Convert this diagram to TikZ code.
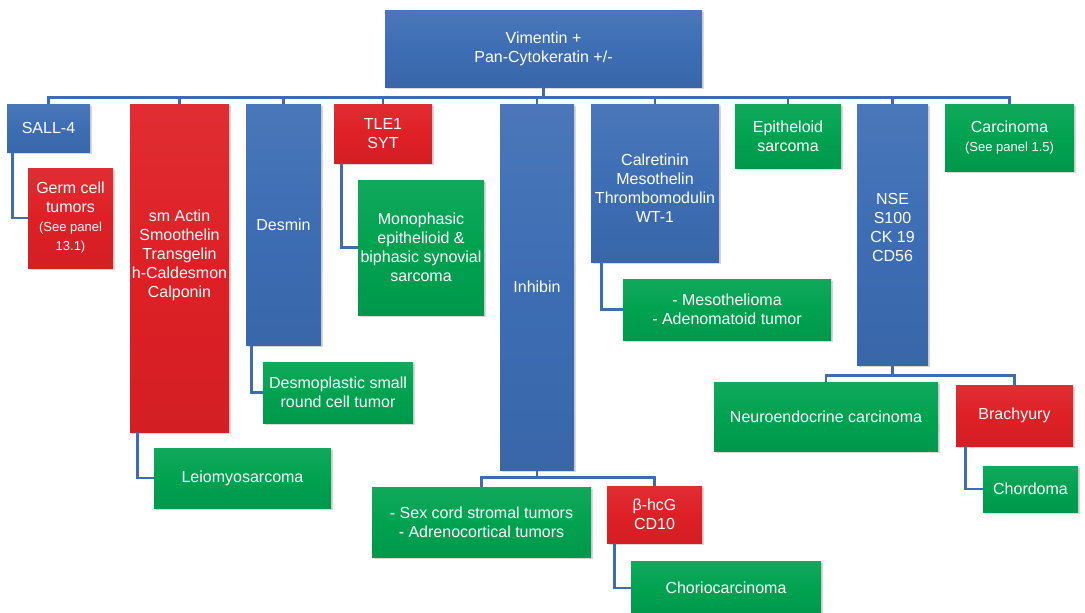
\documentclass[tikz,border=0pt]{standalone}
\usepackage{fontspec}
\setmainfont{Liberation Sans}
\usetikzlibrary{shadows}

\definecolor{boxblue}{RGB}{61,109,180}
\definecolor{boxred}{RGB}{222,32,38}
\definecolor{boxgreen}{RGB}{0,162,80}
\definecolor{linkblue}{RGB}{62,108,176}

\newcommand{\smallnote}{\fontsize{13}{15}\selectfont}

\tikzset{
  boxtext/.style={text=white, align=center, font=\fontsize{16}{19}\selectfont, inner sep=0pt},
  box/.style={boxtext, draw=none, inner sep=2pt,
    drop shadow={opacity=0.3, shadow xshift=1.5pt, shadow yshift=-2pt}},
  bluebox/.style={box, top color=boxblue!93!white, bottom color=boxblue!94!black, middle color=boxblue},
  redbox/.style={box, top color=boxred!94!white, bottom color=boxred!95!black, middle color=boxred},
  greenbox/.style={box, top color=boxgreen!93!white, bottom color=boxgreen!94!black, middle color=boxgreen},
  conn/.style={draw=linkblue, line width=2.8pt},
}

\begin{document}
\begin{tikzpicture}[x=1pt, y=-1pt]
\useasboundingbox (0,0) rectangle (1085,613);
\fill[white] (0,0) rectangle (1085,613);

% top level
\node[bluebox, minimum width=317, minimum height=77] (root) at (543.5,48.5)
  {Vimentin +\\Pan-Cytokeratin +/-};

% first row of markers and entities
\node[bluebox, minimum width=83, minimum height=48] (sall) at (48.5,128) {SALL-4};
\node[redbox, minimum width=99, minimum height=328,
  label={[boxtext, yshift=13pt]center:{sm Actin\\Smoothelin\\Transgelin\\h-Caldesmon\\Calponin}}]
  (smact) at (179.5,268) {};
\node[bluebox, minimum width=75, minimum height=241] (desmin) at (283.5,224.5) {Desmin};
\node[redbox, minimum width=98, minimum height=59] (tle) at (383,133.5) {TLE1\\SYT};
\node[bluebox, minimum width=74, minimum height=366] (inhibin) at (537,287) {Inhibin};
\node[bluebox, minimum width=128, minimum height=158,
  label={[boxtext, yshift=-5pt]center:{Calretinin\\Mesothelin\\Thrombomodulin\\WT-1}}]
  (calret) at (655,183) {};
\node[greenbox, minimum width=106, minimum height=64] (epith) at (788,136) {Epitheloid\\sarcoma};
\node[bluebox, minimum width=71, minimum height=261,
  label={[boxtext, yshift=7pt]center:{NSE\\S100\\CK 19\\CD56}}]
  (nse) at (892.5,234.5) {};
\node[greenbox, minimum width=129, minimum height=67] (carc) at (1009.5,137.5)
  {Carcinoma\\{\smallnote (See panel 1.5)}};

% second level
\node[redbox, minimum width=85, minimum height=100] (germ) at (70.5,218)
  {Germ cell\\tumors\\{\smallnote (See panel}\\{\smallnote 13.1)}};
\node[greenbox, minimum width=177, minimum height=60] (leio) at (242.5,478) {Leiomyosarcoma};
\node[greenbox, minimum width=150, minimum height=61] (desmo) at (338,392.5)
  {Desmoplastic small\\round cell tumor};
\node[greenbox, minimum width=126, minimum height=135] (mono) at (421,247.5)
  {Monophasic\\epithelioid \&\\biphasic synovial\\sarcoma};
\node[greenbox, minimum width=208, minimum height=61] (meso) at (727,309.5)
  {- Mesothelioma\\- Adenomatoid tumor};
\node[greenbox, minimum width=219, minimum height=70] (sexcord) at (481.5,522)
  {- Sex cord stromal tumors\\- Adrenocortical tumors};
\node[redbox, minimum width=95, minimum height=57] (bhcg) at (654.5,514.5) {β-hcG\\CD10};
\node[greenbox, minimum width=190, minimum height=54] (chorio) at (726,588) {Choriocarcinoma};
\node[greenbox, minimum width=224, minimum height=69] (neuro) at (826,416.5) {Neuroendocrine carcinoma};
\node[redbox, minimum width=117, minimum height=61] (brachy) at (1014.5,415.5) {Brachyury};
\node[greenbox, minimum width=95, minimum height=46] (chordoma) at (1030.5,489) {Chordoma};

% connectors: top bus
\coordinate (bus) at ([yshift=-10pt]root.south);
\draw[conn] (root.south) -- (bus);
\foreach \c in {sall,smact,desmin,tle,inhibin,calret,epith,nse,carc}
  \draw[conn] (bus) -| (\c.north);

% connectors: elbows from a parent's lower left to a child's side
\draw[conn] ([xshift=6pt]sall.south west) |- (germ.west);
\draw[conn] ([xshift=8pt]smact.south west) |- (leio.west);
\draw[conn] ([xshift=6pt]desmin.south west) |- (desmo.west);
\draw[conn] ([xshift=8pt]tle.south west) |- (mono.west);
\draw[conn] ([xshift=11pt]calret.south west) |- (meso.west);
\draw[conn] ([xshift=8pt]bhcg.south west) |- (chorio.west);
\draw[conn] ([xshift=10pt]brachy.south west) |- (chordoma.west);

% connectors: split buses below Inhibin and NSE
\coordinate (ibus) at ([yshift=-7pt]inhibin.south);
\draw[conn] (inhibin.south) -- (ibus);
\draw[conn] (ibus) -| (sexcord.north);
\draw[conn] (ibus) -| (bhcg.north);
\coordinate (nbus) at ([yshift=-10pt]nse.south);
\draw[conn] (nse.south) -- (nbus);
\draw[conn] (nbus) -| (neuro.north);
\draw[conn] (nbus) -| (brachy.north);
\end{tikzpicture}
\end{document}
